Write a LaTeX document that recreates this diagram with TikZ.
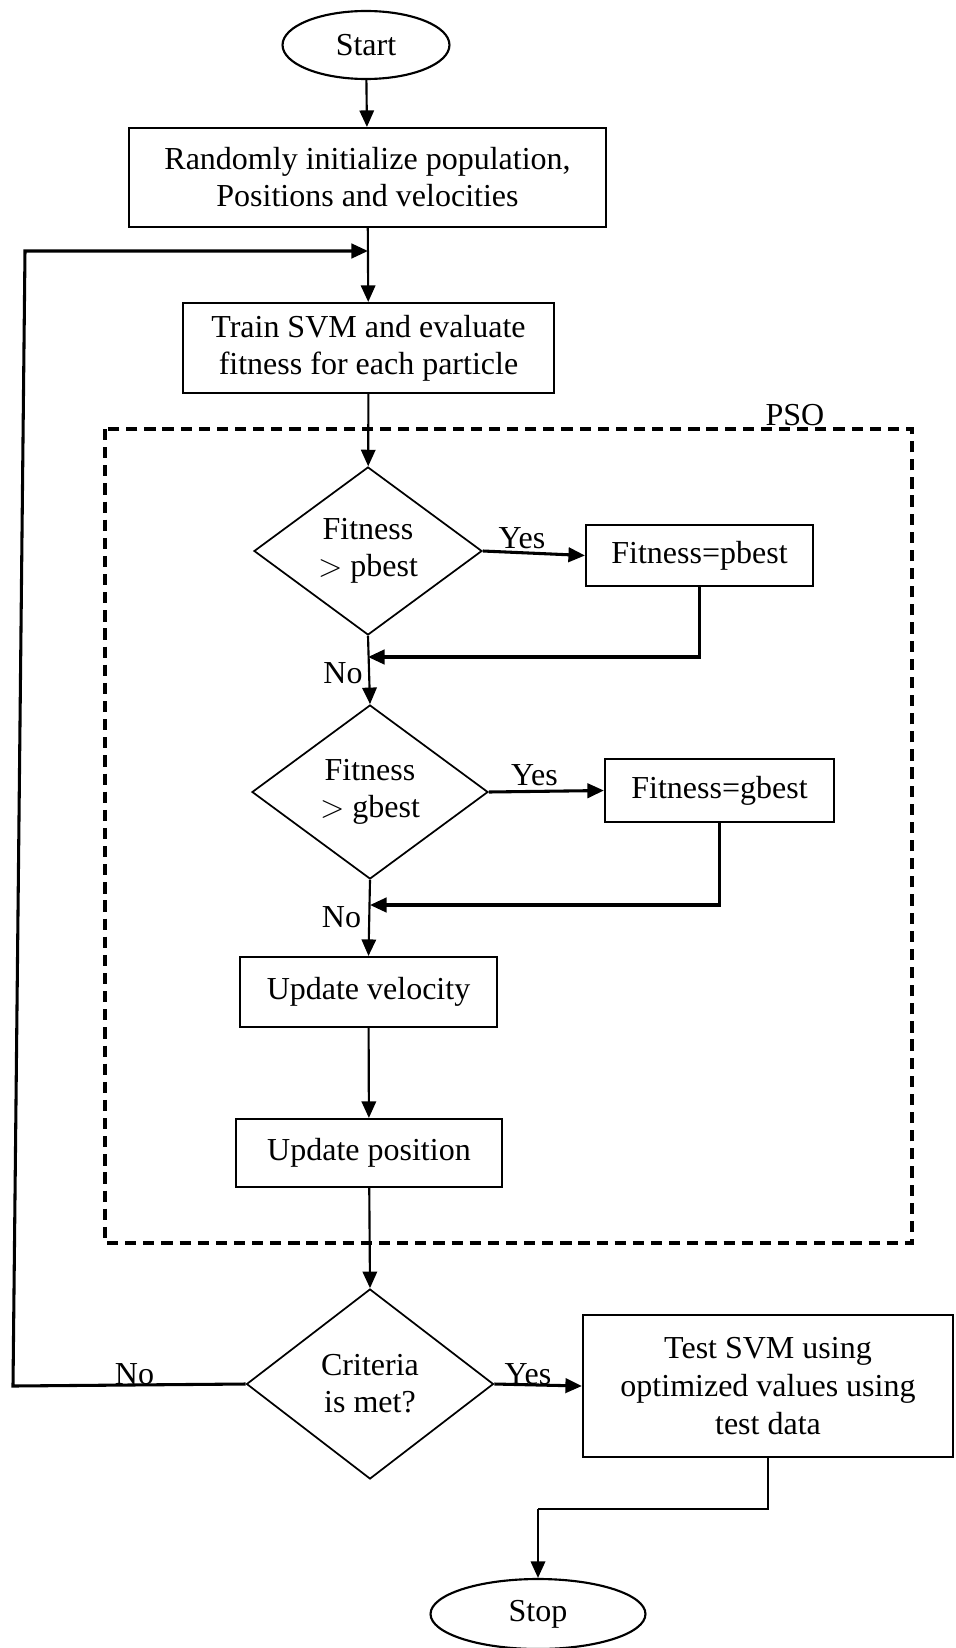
\documentclass[tikz,border=0pt]{standalone}
\usepackage{fontspec}
\setmainfont{Liberation Serif}
\usetikzlibrary{arrows.meta,shapes.geometric}
\begin{document}
\begin{tikzpicture}[x=0.375pt,y=-0.375pt,
  every node/.style={font=\fontsize{12pt}{13.9pt}\selectfont, inner sep=0pt},
  procbox/.style={draw, line width=0.8pt, rectangle, align=center},
  decbox/.style={draw, line width=0.65pt, diamond, shape aspect=1.36, align=center},
  termbox/.style={draw, line width=0.8pt, ellipse, align=center},
  conn/.style={line width=0.8pt, -{Triangle[length=6.2pt,width=5.4pt]}},
  thickconn/.style={line width=1.15pt, -{Triangle[length=6.2pt,width=5.4pt]}},
  plainline/.style={line width=0.8pt},
  lbl/.style={anchor=base}
]
\useasboundingbox (0,0) rectangle (955,1648);

% PSO dashed frame
\draw[line width=1.2pt, dash pattern=on 4.2pt off 2.6pt] (105,429) rectangle (912,1243);
\node[lbl] (psolbl) at (795,425) {PSO};

% nodes
\node[termbox, minimum width=62.6pt, minimum height=25.5pt] (start) at (366,45) {Start};
\node[procbox, minimum width=178.9pt, minimum height=37.1pt] (init) at (367.5,177.5) {Randomly initialize population,\\Positions and velocities};
\node[procbox, minimum width=139.1pt, minimum height=33.75pt] (train) at (368.5,348) {Train SVM and evaluate\\fitness for each particle};
\node[decbox, minimum width=85.5pt, minimum height=63pt] (d1) at (368,551) {Fitness\\$>$ pbest};
\node[procbox, minimum width=85.1pt, minimum height=22.9pt] (pb) at (699.5,555.5) {Fitness=pbest};
\node[decbox, minimum width=88.5pt, minimum height=65.25pt] (d2) at (370,792) {Fitness\\$>$ gbest};
\node[procbox, minimum width=85.9pt, minimum height=23.6pt] (gb) at (719.5,790.5) {Fitness=gbest};
\node[procbox, minimum width=96.4pt, minimum height=26.25pt] (vel) at (368.5,992) {Update velocity};
\node[procbox, minimum width=99.75pt, minimum height=25.5pt] (pos) at (369,1153) {Update position};
\node[decbox, minimum width=92.6pt, minimum height=71.25pt] (crit) at (370,1384) {Criteria\\is met?};
\node[procbox, minimum width=138.75pt, minimum height=53.25pt, font=\fontsize{12pt}{14.2pt}\selectfont] (test) at (768,1386) {Test SVM using\\optimized values using\\test data};
\node[termbox, minimum width=80.6pt, minimum height=26.25pt] (stop) at (538,1614) {Stop};

% helper coordinates
\coordinate (j0) at (368,251);
\coordinate (lt) at (25,251);
\coordinate (lb) at (13,1386);
\coordinate (j1) at (368,657);
\coordinate (j2) at (370,905);
\coordinate (sj) at (538,1509);

% connectors
\draw[conn] (start) -- (init);
\draw[conn] (init) -- (train);
\draw[thickconn] (crit.west) -- (lb) -- (lt) -- (j0);
\draw[conn] (train) -- (d1);
\draw[thickconn] (d1.east) -- (pb.west);
\draw[thickconn] (pb.south) |- (j1);
\draw[conn] (d1.south) -- (d2.north);
\draw[thickconn] (d2.east) -- (gb.west);
\draw[thickconn] (gb.south) |- (j2);
\draw[conn] (d2.south) -- (vel.north);
\draw[conn] (vel) -- (pos);
\draw[conn] (pos) -- (crit.north);
\draw[thickconn] (crit.east) -- (test.west);
\draw[plainline] (test.south) |- (sj);
\draw[conn] (sj) -- (stop.north);

% labels
\node[lbl] (yes1) at (522,548) {Yes};
\node[lbl] (no1) at (343,683) {No};
\node[lbl] (yes2) at (534.5,785) {Yes};
\node[lbl] (no2) at (341.5,927) {No};
\node[lbl] (yes3) at (528,1384) {Yes};
\node[lbl] (no3) at (134.5,1384) {No};
\end{tikzpicture}
\end{document}
